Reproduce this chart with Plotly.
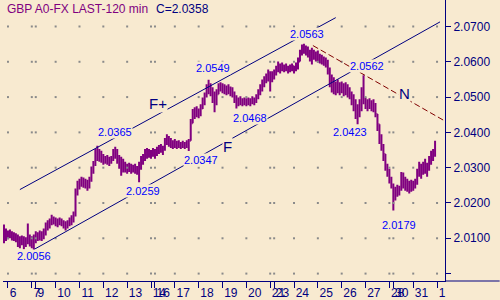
import plotly.graph_objects as go

# ---------------- data (prices in pips above 2.0000) ----------------
BASE = 2.0
PIP = 0.0001

high_pips = [
    139, 128, 122, 125, 120, 117, 114, 111, 106, 108,
    106, 103, 142, 111, 106, 111, 120, 117, 122, 120,
    128, 145, 151, 156, 167, 162, 159, 156, 159, 156,
    151, 148, 151, 159, 165, 176, 241, 263, 269, 274,
    272, 269, 266, 274, 303, 319, 353, 362, 353, 348,
    339, 333, 336, 331, 333, 353, 359, 353, 336, 331,
    325, 317, 311, 314, 311, 308, 311, 305, 317, 333,
    339, 353, 356, 353, 350, 356, 353, 359, 364, 367,
    362, 384, 395, 390, 384, 378, 381, 376, 378, 373,
    376, 373, 378, 381, 438, 466, 471, 474, 468, 480,
    499, 513, 536, 549, 539, 528, 516, 522, 539, 542,
    539, 536, 533, 536, 530, 528, 516, 505, 499, 502,
    497, 499, 497, 499, 497, 502, 499, 508, 522, 536,
    550, 559, 567, 578, 573, 573, 578, 589, 601, 595,
    598, 592, 595, 589, 592, 595, 589, 598, 612, 634,
    649, 651, 646, 643, 634, 640, 634, 629, 632, 623,
    620, 615, 612, 606, 584, 564, 556, 544, 550, 542,
    544, 539, 542, 536, 528, 516, 508, 494, 480, 494,
    528, 562, 499, 494, 497, 491, 494, 483, 452, 423,
    395, 367, 339, 311, 297, 274, 255, 246, 252, 249,
    288, 286, 274, 269, 263, 266, 263, 269, 297, 317,
    311, 317, 325, 314, 333, 348, 353, 376,
]
low_pips = [
    86, 92, 97, 100, 94, 92, 89, 75, 72, 80,
    69, 75, 83, 77, 72, 56, 86, 92, 94, 92,
    97, 108, 122, 128, 137, 139, 134, 131, 137, 134,
    128, 122, 128, 134, 137, 145, 162, 221, 238, 246,
    243, 241, 235, 241, 260, 283, 305, 319, 317, 314,
    308, 311, 308, 305, 311, 319, 325, 311, 297, 277,
    286, 286, 283, 288, 283, 286, 283, 280, 259, 294,
    308, 319, 325, 328, 325, 331, 325, 333, 339, 342,
    336, 348, 364, 359, 356, 353, 356, 353, 356, 353,
    356, 353, 356, 347, 376, 426, 438, 443, 440, 446,
    466, 477, 499, 508, 502, 483, 457, 477, 508, 516,
    511, 508, 505, 508, 502, 499, 483, 468, 474, 477,
    474, 477, 474, 477, 474, 480, 477, 483, 494, 505,
    516, 528, 539, 544, 516, 542, 550, 561, 570, 567,
    573, 570, 573, 567, 570, 573, 567, 573, 578, 601,
    618, 623, 618, 612, 601, 592, 606, 601, 598, 595,
    592, 589, 584, 564, 528, 513, 508, 505, 511, 505,
    511, 502, 505, 499, 494, 477, 460, 438, 423, 443,
    460, 480, 466, 460, 466, 460, 457, 443, 404, 367,
    348, 319, 291, 274, 255, 241, 179, 207, 218, 221,
    235, 241, 235, 232, 227, 232, 235, 241, 252, 274,
    269, 280, 283, 274, 291, 308, 319, 331,
]
close_pips = [
    111, 106, 114, 108, 111, 103, 106, 94, 89, 97,
    86, 92, 100, 92, 97, 94, 106, 108, 111, 106,
    117, 134, 139, 145, 153, 151, 148, 151, 153, 145,
    139, 137, 145, 151, 153, 165, 227, 252, 258, 263,
    258, 255, 249, 263, 291, 308, 339, 345, 333, 328,
    322, 325, 319, 317, 322, 339, 348, 325, 308, 297,
    303, 297, 300, 294, 297, 291, 294, 291, 303, 322,
    331, 342, 345, 339, 342, 348, 339, 350, 356, 359,
    353, 376, 384, 373, 367, 364, 370, 362, 367, 362,
    364, 362, 367, 373, 423, 452, 457, 463, 454, 468,
    488, 502, 525, 533, 516, 497, 488, 505, 528, 533,
    525, 522, 516, 522, 513, 511, 494, 485, 488, 491,
    485, 488, 485, 491, 488, 494, 491, 499, 513, 528,
    539, 550, 556, 564, 556, 561, 570, 581, 589, 584,
    587, 581, 584, 578, 581, 587, 578, 589, 601, 623,
    637, 640, 632, 629, 620, 626, 623, 615, 618, 609,
    606, 601, 598, 578, 544, 533, 522, 528, 533, 522,
    530, 516, 525, 513, 508, 494, 480, 460, 452, 471,
    508, 494, 485, 477, 483, 474, 471, 460, 423, 387,
    364, 339, 308, 291, 269, 252, 227, 224, 235, 238,
    274, 260, 252, 246, 243, 249, 252, 258, 283, 305,
    291, 300, 308, 297, 319, 336, 345, 358,
]
first_open_pips = 120

day_labels = ['6', '7', '9', '10', '11', '12', '13', '14', '16', '17', '18', '19',
              '20', '21', '23', '24', '25', '26', '27', '28', '30', '31', '1']
day_start_bar = [2, 14, 16, 26, 38, 50, 62, 74, 76, 86, 98, 110,
                 122, 134, 136, 146, 158, 170, 182, 194, 196, 206, 218]

price_levels = [2.00, 2.01, 2.02, 2.03, 2.04, 2.05, 2.06, 2.07]
price_labels = ['', '2.0100', '2.0200', '2.0300', '2.0400', '2.0500', '2.0600', '2.0700']

# trend lines (bar index, price)
line_fplus_x, line_fplus_y = [8, 167], [2.0238, 2.0725]
line_f_x, line_f_y = [15, 219.5], [2.0068, 2.0713]
line_n_x, line_n_y = [155.5, 222], [2.0646, 2.0432]

# pivot labels: text, bar, price
pivot_text = ['2.0056', '2.0365', '2.0259', '2.0347', '2.0549', '2.0468',
              '2.0563', '2.0562', '2.0423', '2.0179']
pivot_bar = [15, 56, 70, 99, 105, 124, 152.5, 182.5, 174, 199]
pivot_price = [2.0049, 2.0401, 2.0235, 2.0322, 2.0581, 2.0440,
               2.0680, 2.0589, 2.0401, 2.0139]
name_text = ['F+', 'F', 'N']
name_bar = [77.5, 112.5, 201.5]
name_price = [2.0483, 2.0359, 2.0511]

title_text = 'GBP A0-FX LAST-120 min'
close_text = 'C=2.0358'

# ---------------- build ----------------
highs = [BASE + v * PIP for v in high_pips]
lows = [BASE + v * PIP for v in low_pips]
closes = [BASE + v * PIP for v in close_pips]
opens = []
prev = BASE + first_open_pips * PIP
for h, l, c in zip(highs, lows, closes):
    opens.append(min(max(prev, l), h))
    prev = c
bars = list(range(len(closes)))

BG = '#F8EAD0'
NAVY = '#000080'
PURPLE = '#800080'
BLUE = '#0000FF'
DARKRED = '#800000'
FONT = 'Liberation Sans, Arial, sans-serif'

NB = '\u00a0'
def pad(lbl):
    return NB * (2 * len(lbl) + 1) + lbl

dot_x = [b for _ in price_levels for b in day_start_bar]
dot_y = [p for p in price_levels for _ in day_start_bar]

fig = go.Figure()
fig.add_trace(go.Scatter(x=dot_x, y=dot_y, mode='markers',
                         marker=dict(symbol='square', size=2, color='#8a8a8a', line=dict(width=0)),
                         hoverinfo='skip'))
fig.add_trace(go.Ohlc(x=bars, open=opens, high=highs, low=lows, close=closes,
                      increasing=dict(line=dict(color=PURPLE, width=2)),
                      decreasing=dict(line=dict(color=PURPLE, width=2)),
                      tickwidth=0.5, hoverinfo='skip'))
for xs, ys, col, dash in [(line_fplus_x, line_fplus_y, NAVY, 'solid'),
                          (line_f_x, line_f_y, NAVY, 'solid'),
                          (line_n_x, line_n_y, DARKRED, '6px,3px')]:
    fig.add_trace(go.Scatter(x=xs, y=ys, mode='lines',
                             line=dict(color=col, width=1, dash=dash), hoverinfo='skip'))

annotations = []
for t, b, p in zip(pivot_text, pivot_bar, pivot_price):
    annotations.append(dict(x=b, y=p, xref='x', yref='y', text=t, showarrow=False,
                            font=dict(family=FONT, size=11, color=BLUE),
                            bgcolor=BG, borderpad=0))
for t, b, p in zip(name_text, name_bar, name_price):
    annotations.append(dict(x=b, y=p, xref='x', yref='y', text=t, showarrow=False,
                            font=dict(family=FONT, size=15, color=NAVY),
                            bgcolor=BG, borderpad=0))
annotations.append(dict(x=2 / 445, y=1 - 9.5 / 283, xref='paper', yref='paper',
                        xanchor='left', yanchor='middle', text=title_text, showarrow=False,
                        font=dict(family=FONT, size=12, color=PURPLE)))
annotations.append(dict(x=152 / 445, y=1 - 9.5 / 283, xref='paper', yref='paper',
                        xanchor='left', yanchor='middle', text=close_text, showarrow=False,
                        font=dict(family=FONT, size=12, color=NAVY)))

fig.update_layout(
    width=500, height=300,
    margin=dict(l=0, r=55, t=0, b=17),
    paper_bgcolor=BG, plot_bgcolor=BG,
    showlegend=False,
    annotations=annotations,
    shapes=[dict(type='line', xref='paper', yref='paper', x0=1, x1=500 / 445, y0=0, y1=0,
                 line=dict(color=NAVY, width=1))],
    xaxis=dict(range=[-0.5, 222], tickvals=day_start_bar, ticktext=[pad(l) for l in day_labels],
               ticks='outside', ticklen=6, tickcolor=NAVY, tickwidth=1, tickangle=0,
               showline=True, linecolor=NAVY, linewidth=1, showgrid=False, zeroline=False,
               tickfont=dict(family=FONT, size=12, color=NAVY),
               ticklabelstandoff=-5, ticklabeloverflow='allow',
               rangeslider=dict(visible=False), fixedrange=True),
    yaxis=dict(side='right', range=[1.9979, 2.0775], tickvals=price_levels, ticktext=price_labels,
               ticks='outside', ticklen=5, tickcolor=NAVY, tickwidth=1,
               showline=True, linecolor=NAVY, linewidth=1, showgrid=False, zeroline=False,
               tickfont=dict(family=FONT, size=12, color=NAVY), fixedrange=True),
)

fig.write_html('out.html')
